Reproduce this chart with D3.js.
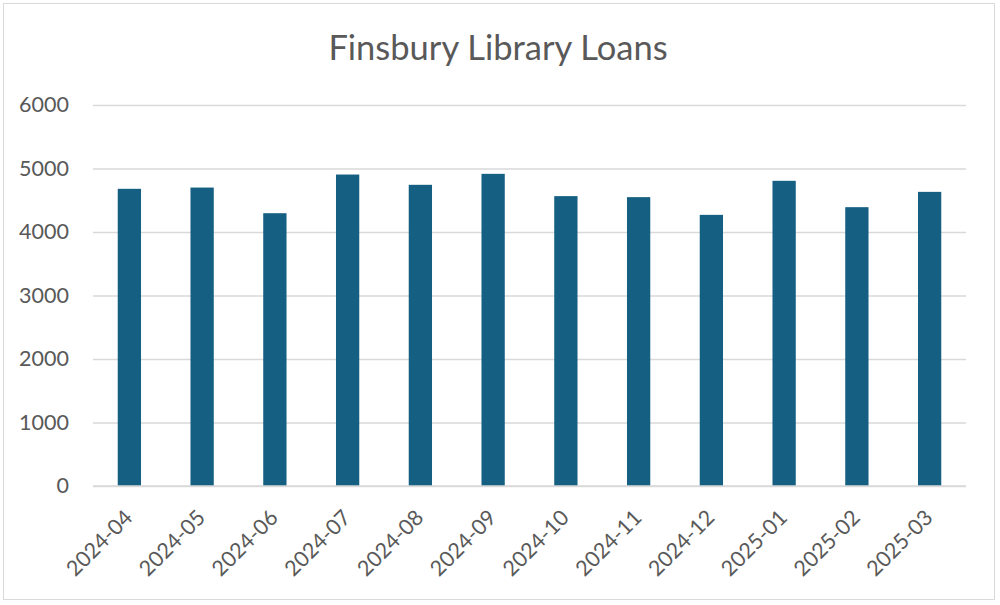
<!DOCTYPE html>
<html>
<head>
<meta charset="utf-8">
<script src="https://cdn.jsdelivr.net/npm/d3@7"></script>
<style>
  body { margin: 0; background: #fff; }
  svg text { font-family: Lato, "Open Sans", sans-serif; fill: #595959; }
</style>
</head>
<body>
<div id="chart"></div>
<script>
const months = ['2024-04', '2024-05', '2024-06', '2024-07', '2024-08', '2024-09',
  '2024-10', '2024-11', '2024-12', '2025-01', '2025-02', '2025-03'];
const loans = [4680, 4700, 4296, 4905, 4743, 4916, 4565, 4549, 4270, 4806, 4391, 4632];
const yTicks = [0, 1000, 2000, 3000, 4000, 5000, 6000];

const width = 1000;
const height = 605;
const margin = { top: 105, right: 34, bottom: 119, left: 93 };

const svg = d3.select('#chart')
  .append('svg')
  .attr('width', width)
  .attr('height', height);

// outer chart frame
svg.append('rect')
  .attr('x', 3.5).attr('y', 3.5)
  .attr('width', 991).attr('height', 596)
  .attr('fill', '#fff')
  .attr('stroke', '#d9d9d9');

svg.append('text')
  .attr('x', 498)
  .attr('y', 60)
  .attr('text-anchor', 'middle')
  .style('font-size', '34.5px')
  .text('Finsbury Library Loans');

const x = d3.scaleBand()
  .domain(months)
  .range([margin.left, width - margin.right])
  .paddingInner(0.68)
  .paddingOuter(0.34);

const y = d3.scaleLinear()
  .domain([0, 6000])
  .range([height - margin.bottom, margin.top]);

// gridlines + y labels
const yAxis = svg.append('g')
  .attr('transform', `translate(${margin.left},0)`)
  .call(d3.axisLeft(y).tickValues(yTicks).tickFormat(d3.format('d'))
    .tickSize(-(width - margin.left - margin.right)).tickPadding(24));
yAxis.select('.domain').remove();
yAxis.selectAll('line').attr('stroke', '#d9d9d9').attr('stroke-width', 1.3);
yAxis.selectAll('text')
  .style('font-size', '21.5px')
  .attr('font-family', null);

svg.append('g')
  .selectAll('rect')
  .data(months)
  .join('rect')
  .attr('x', d => x(d))
  .attr('y', (d, i) => y(loans[i]))
  .attr('width', x.bandwidth())
  .attr('height', (d, i) => y(0) - y(loans[i]))
  .attr('fill', '#156082');

// baseline redrawn over bars
svg.append('line')
  .attr('x1', margin.left).attr('x2', width - margin.right)
  .attr('y1', y(0)).attr('y2', y(0))
  .attr('stroke', '#d9d9d9').attr('stroke-width', 1.3);

// rotated category labels
const xAxis = svg.append('g')
  .attr('transform', `translate(0,${y(0)})`)
  .call(d3.axisBottom(x).tickSize(0).tickPadding(0));
xAxis.select('.domain').remove();
xAxis.selectAll('text')
  .style('font-size', '21.5px')
  .attr('font-family', null)
  .attr('text-anchor', 'end')
  .attr('dy', null)
  .attr('y', 0)
  .attr('transform', 'translate(4.5,33) rotate(-45)');
</script>
</body>
</html>
